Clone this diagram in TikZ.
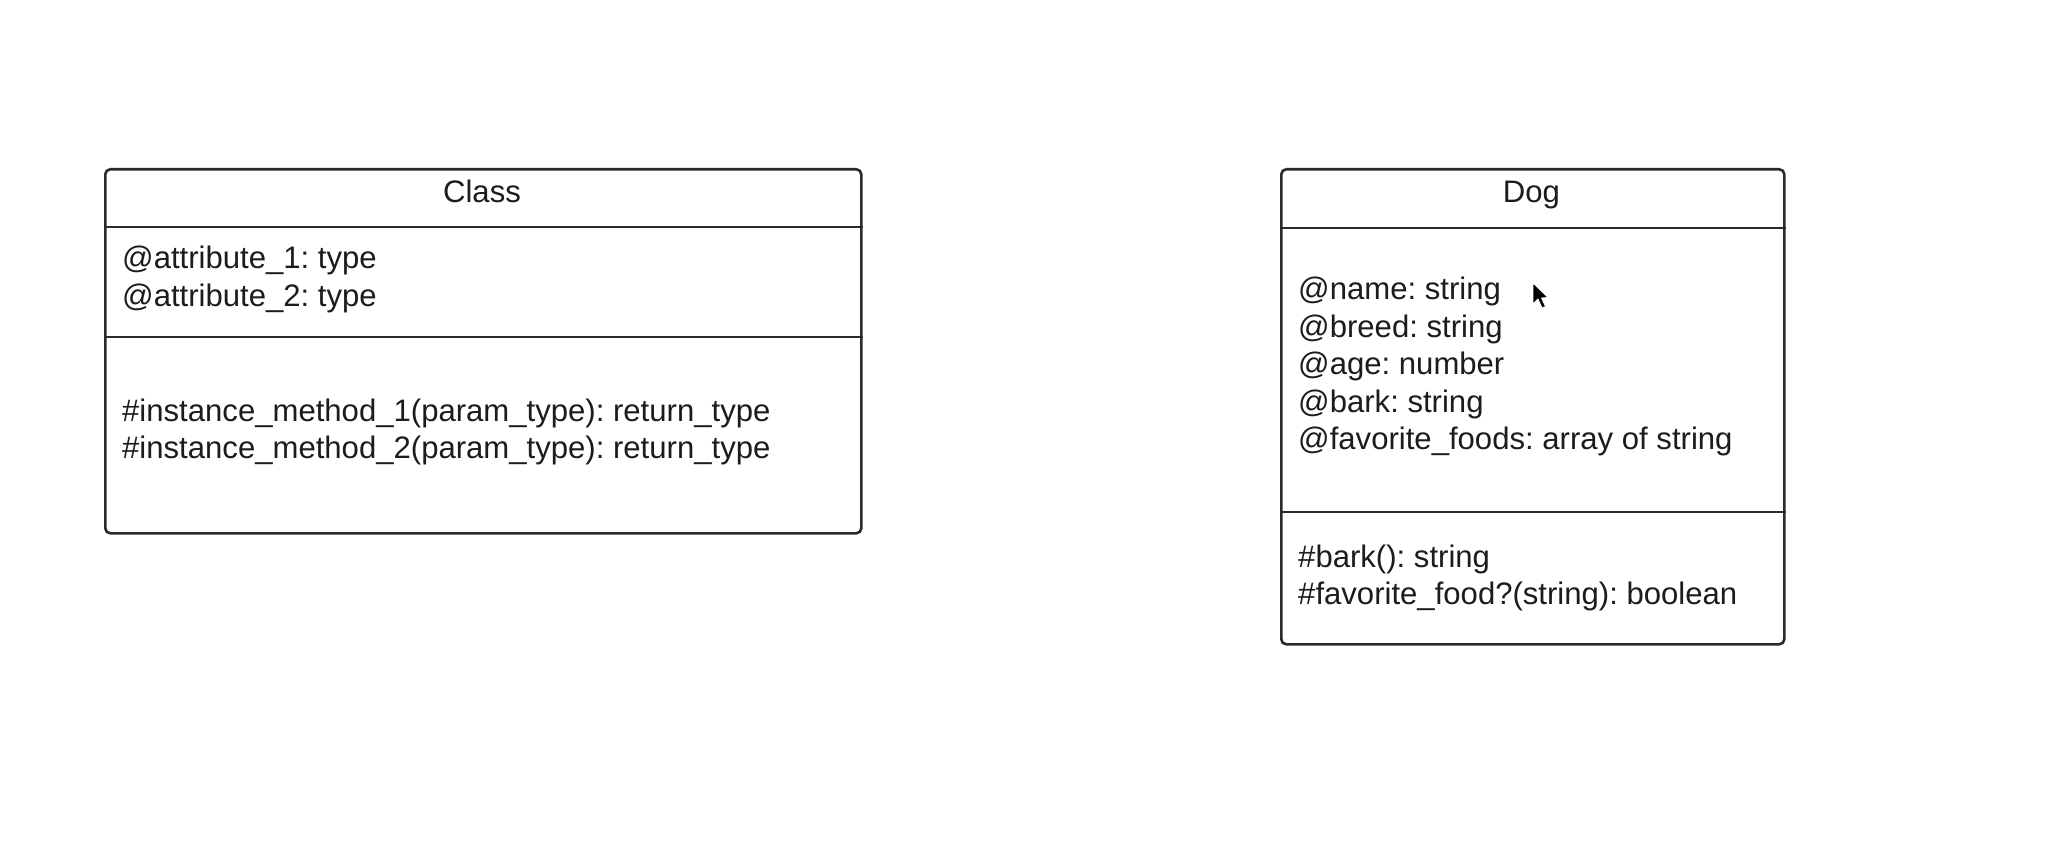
\documentclass[tikz,border=0pt]{standalone}
\usepackage{fontspec}
\setmainfont{Liberation Sans}
\definecolor{linec}{HTML}{2A2A2A}
\definecolor{textc}{HTML}{1C1C1C}
\frenchspacing
\begin{document}
\begin{tikzpicture}[x=1pt,y=-1pt,
  umlbox/.style={draw=linec, line width=2.6pt, rounded corners=5pt, anchor=north west, inner sep=0pt, fill=white},
  divider/.style={draw=linec, line width=2.6pt},
  txt/.style={anchor=base west, inner sep=0pt, text=textc, font=\fontsize{31.1}{37}\selectfont},
  title/.style={anchor=base, inner sep=0pt, text=textc, font=\fontsize{31.1}{37}\selectfont}]
\useasboundingbox (0,0) rectangle (2058,866);
\fill[white] (0,0) rectangle (2058,866);
% Class box
\node[umlbox, minimum width=756pt, minimum height=364pt] (classbox) at (104,168) {};
\draw[divider] (classbox.west |- 0,227) -- (classbox.east |- 0,227);
\draw[divider] (classbox.west |- 0,337) -- (classbox.east |- 0,337);
\node[title] (classname) at (482,203) {Class};
\node[txt] (cattr1) at (122,269) {@attribute\_1: type};
\node[txt] (cattr2) at (122,307) {@attribute\_2: type};
\node[txt] (cmeth1) at (122,421) {\#instance\_method\_1(param\_type): return\_type};
\node[txt] (cmeth2) at (122,458) {\#instance\_method\_2(param\_type): return\_type};
% Dog box
\node[umlbox, minimum width=503pt, minimum height=475pt] (dogbox) at (1280,168) {};
\draw[divider] (dogbox.west |- 0,228) -- (dogbox.east |- 0,228);
\draw[divider] (dogbox.west |- 0,512) -- (dogbox.east |- 0,512);
\node[title] (dogname) at (1531.5,203) {Dog};
\node[txt] (dattr1) at (1298,300) {@name: string};
\node[txt] (dattr2) at (1298,338) {@breed: string};
\node[txt] (dattr3) at (1298,374) {@age: number};
\node[txt] (dattr4) at (1298,412) {@bark: string};
\node[txt] (dattr5) at (1298,449) {@favorite\_foods: array of string};
\node[txt] (dmeth1) at (1298,567) {\#bark(): string};
\node[txt] (dmeth2) at (1298,604) {\#favorite\_food?(string): boolean};
% mouse cursor
\fill[black, draw=white, line width=0.8pt, line join=round]
  (1533,283) -- (1533,304) -- (1538,299) -- (1542,308) -- (1545.5,306.5) -- (1541.5,298) -- (1548,297.5) -- cycle;
\end{tikzpicture}
\end{document}
